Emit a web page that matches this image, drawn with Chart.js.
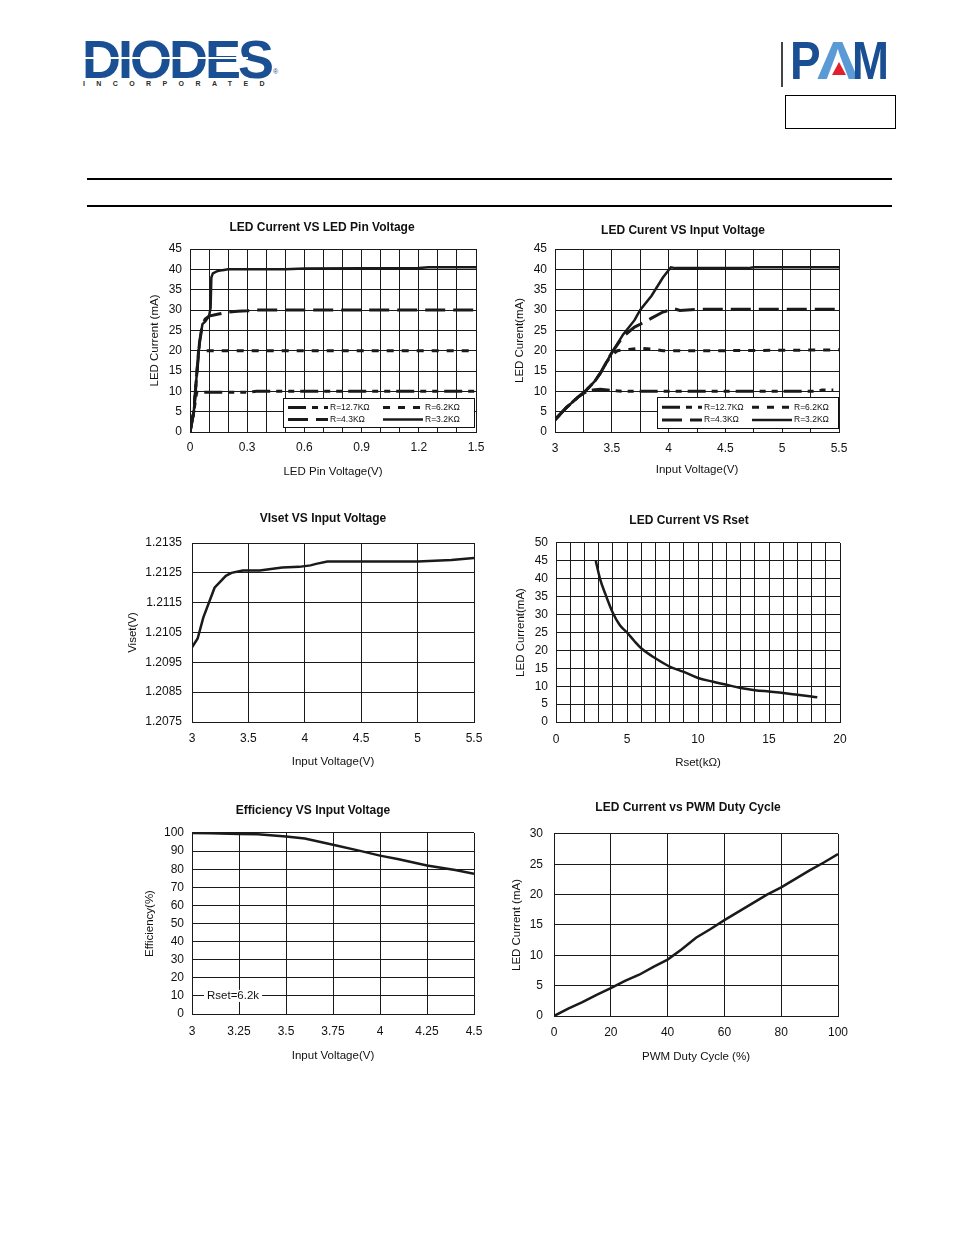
<!DOCTYPE html>
<html>
<head>
<meta charset="utf-8">
<script src="https://cdn.jsdelivr.net/npm/chart.js@4.4.1/dist/chart.umd.min.js"></script>
<style>
  body { margin:0; background:#fff; width:954px; height:1235px; position:relative; overflow:hidden;
         font-family:"Liberation Sans", Arial, sans-serif; }
  canvas { position:absolute; }
  .abs { position:absolute; }
  .diodes { left:82px; top:32px; font-size:54px; line-height:54px; font-weight:bold; color:#1b4f93; letter-spacing:-3px; }
  .stripe { left:83px; top:57px; width:165px; height:2px; background:#fff; }
  .reg { left:273px; top:68px; font-size:7px; color:#1b4f93; }
  .inc { left:83px; top:80px; font-size:7px; font-weight:bold; color:#2b2b1f; letter-spacing:11.4px; }
  .pamline { left:781px; top:42px; width:1.5px; height:45px; background:#444; }
  .pam { top:33px; font-size:54px; line-height:54px; font-weight:bold; transform-origin:left top; }
  .tri { left:832px; top:62px; width:0; height:0; border-left:7px solid transparent; border-right:7px solid transparent; border-bottom:13px solid #e0202a; }
  .pbox { left:785px; top:95px; width:109px; height:32px; border:1.3px solid #000; }
  .rule { left:87px; width:805px; height:2px; background:#000; }
</style>
</head>
<body>
<div class="abs diodes">DIODES</div>
<div class="abs stripe"></div>
<div class="abs reg">®</div>
<div class="abs inc">INCORPORATED</div>
<div class="abs pamline"></div>
<div class="abs pam" style="left:790px;color:#1b4f93;transform:scaleX(0.85)">P</div>
<div class="abs pam" style="left:817px;color:#5b9bd5;transform:scaleX(1.15)">Λ</div>
<div class="abs tri"></div>
<div class="abs pam" style="left:852px;color:#1b4f93;transform:scaleX(0.82)">M</div>
<div class="abs pbox"></div>
<div class="abs rule" style="top:178px"></div>
<div class="abs rule" style="top:205px"></div>

<canvas id="c1"></canvas>
<canvas id="c2"></canvas>
<canvas id="c3"></canvas>
<canvas id="c4"></canvas>
<canvas id="c5"></canvas>
<canvas id="c6"></canvas>

<script>
// ---- data ----
const seriesLabels = ['R=12.7KΩ', 'R=6.2KΩ', 'R=4.3KΩ', 'R=3.2KΩ'];

// LED current vs LED pin voltage
const pinV_127 = [0, 0.02, 0.035, 0.06, 0.2, 0.3, 0.35, 0.5, 1.0, 1.5];
const pinI_127 = [0, 5, 9.8, 9.8, 9.8, 9.8, 10, 10, 10, 10];
const pinV_62 = [0, 0.02, 0.035, 0.045, 0.1, 0.5, 1.0, 1.5];
const pinI_62 = [0, 5, 14, 20, 20, 20, 20, 20];
const pinV_43 = [0, 0.02, 0.035, 0.05, 0.065, 0.08, 0.1, 0.15, 0.2, 0.25, 0.3, 0.35, 1.0, 1.5];
const pinI_43 = [0, 5, 14, 22, 26.5, 27.8, 28.5, 29, 29.5, 29.7, 29.8, 30, 30, 30];
const pinV_32 = [0, 0.02, 0.035, 0.05, 0.065, 0.08, 0.1, 0.108, 0.112, 0.12, 0.14, 0.17, 0.2, 0.5, 0.6, 1.2, 1.25, 1.5];
const pinI_32 = [0, 5, 14, 22, 26.5, 27.2, 28.5, 30.5, 38, 39, 39.5, 39.8, 40, 40, 40.2, 40.3, 40.5, 40.5];

// LED current vs input voltage
const inV_127 = [3, 3.1, 3.2, 3.25, 3.3, 3.35, 3.4, 3.5, 3.6, 4.5, 5.3, 5.35, 5.45];
const inI_127 = [3, 6, 8.5, 9.5, 10.2, 10.4, 10.5, 10.2, 10, 10, 10, 10.3, 10.3];
const inV_62 = [3, 3.1, 3.2, 3.25, 3.3, 3.35, 3.4, 3.45, 3.5, 3.55, 3.65, 3.75, 3.85, 3.95, 4.5, 5, 5.5];
const inI_62 = [3, 6, 8.5, 9.6, 11, 12.5, 14.5, 17, 19, 20, 20.3, 20.6, 20.4, 20, 20, 20.1, 20.2];
const inV_43 = [3, 3.1, 3.2, 3.25, 3.3, 3.35, 3.4, 3.45, 3.5, 3.6, 3.7, 3.75, 3.85, 3.95, 4.05, 4.1, 4.3, 5.5];
const inI_43 = [3, 6, 8.5, 9.6, 11, 12.5, 14.5, 17, 19.5, 23.5, 25.8, 26.5, 28, 29.5, 30.3, 29.9, 30.2, 30.2];
const inV_32 = [3, 3.1, 3.2, 3.25, 3.3, 3.35, 3.4, 3.45, 3.5, 3.6, 3.7, 3.75, 3.85, 3.95, 4.02, 4.06, 4.7, 4.75, 5.5];
const inI_32 = [3, 6, 8.5, 9.6, 11, 12.5, 14.5, 17, 19.5, 24, 27.5, 30, 33.5, 38, 40.5, 40.3, 40.3, 40.5, 40.5];

// VIset vs input voltage
const visetV = [3, 3.05, 3.1, 3.2, 3.3, 3.35, 3.45, 3.6, 3.8, 3.95, 4.05, 4.1, 4.2, 5.0, 5.3, 5.5];
const visetY = [1.2100, 1.2103, 1.2110, 1.2120, 1.2124, 1.2125, 1.21258, 1.21258, 1.21268, 1.2127, 1.21275, 1.2128, 1.21288, 1.21288, 1.21293, 1.2130];

// LED current vs Rset
const rsetK = [2.8, 3.1, 3.5, 4, 4.5, 5, 5.5, 6, 7, 8, 9, 10, 11, 12, 13, 14, 15, 16, 17, 18, 18.4];
const rsetI = [45, 40, 35.5, 30.5, 27, 25, 22.7, 20.6, 17.8, 15.5, 14, 12.3, 11.3, 10.4, 9.5, 8.9, 8.5, 8.1, 7.6, 7.1, 6.9];

// Efficiency vs input voltage
const effV = [3, 3.1, 3.25, 3.35, 3.5, 3.6, 3.75, 3.9, 4, 4.1, 4.25, 4.4, 4.5];
const effPct = [100, 99.8, 99.5, 99.3, 98, 97, 93.5, 90, 87.5, 85.5, 82, 79.5, 77.5];

// LED current vs PWM duty cycle
const pwmDuty = [0, 5, 10, 15, 20, 25, 30, 35, 40, 45, 50, 55, 60, 65, 70, 75, 80, 85, 90, 95, 100];
const pwmI = [0, 1.2, 2.3, 3.5, 4.6, 5.8, 6.8, 8.1, 9.3, 11, 12.9, 14.3, 15.8, 17.2, 18.6, 20, 21.2, 22.6, 24, 25.3, 26.7];

// grid lines and tick labels
const pinVGrid = [0, 0.1, 0.2, 0.3, 0.4, 0.5, 0.6, 0.7, 0.8, 0.9, 1.0, 1.1, 1.2, 1.3, 1.4, 1.5];
const pinVTicks = [0, 0.3, 0.6, 0.9, 1.2, 1.5];
const cur45Grid = [0, 5, 10, 15, 20, 25, 30, 35, 40, 45];
const inVGrid = [3, 3.25, 3.5, 3.75, 4, 4.25, 4.5, 4.75, 5, 5.25, 5.5];
const inVTicks = [3, 3.5, 4, 4.5, 5, 5.5];
const visetXGrid = [3, 3.5, 4, 4.5, 5, 5.5];
const visetYGrid = [1.2075, 1.2085, 1.2095, 1.2105, 1.2115, 1.2125, 1.2135];
const rsetGrid = [0, 1, 2, 3, 4, 5, 6, 7, 8, 9, 10, 11, 12, 13, 14, 15, 16, 17, 18, 19, 20];
const rsetTicks = [0, 5, 10, 15, 20];
const cur50Grid = [0, 5, 10, 15, 20, 25, 30, 35, 40, 45, 50];
const effXGrid = [3, 3.25, 3.5, 3.75, 4, 4.25, 4.5];
const effYGrid = [0, 10, 20, 30, 40, 50, 60, 70, 80, 90, 100];
const pwmXGrid = [0, 20, 40, 60, 80, 100];
const pwmYGrid = [0, 5, 10, 15, 20, 25, 30];

// ---- drawing ----
const FONT = '"Liberation Sans", Arial, sans-serif';
const TICK = 12, AXT = 11.5, TTL = 12;
const INK = '#1a1a1a';
const PADR = 24;
Chart.defaults.font.family = FONT;
Chart.defaults.color = '#111';

const lh = s => s * 1.2;
const pts = (xs, ys) => xs.map((x, i) => ({ x: x, y: ys[i] }));
const meas = document.createElement('canvas').getContext('2d');

function line(label, xs, ys, dash, width) {
    return { label: label, data: pts(xs, ys), showLine: true, borderColor: INK,
             borderWidth: width, borderDash: dash, pointRadius: 0, tension: 0 };
}

// legend box drawn inside the plot (bottom right)
const boxLegend = {
    id: 'boxLegend',
    afterDatasetsDraw(chart, args, o) {
        const ctx = chart.ctx, a = chart.chartArea;
        const x = a.right - o.right - o.w, y = a.bottom - o.bottom - o.h;
        ctx.save();
        ctx.fillStyle = '#fff';
        ctx.fillRect(x, y, o.w, o.h);
        ctx.strokeStyle = '#111';
        ctx.lineWidth = 1;
        ctx.strokeRect(Math.round(x) + 0.5, Math.round(y) + 0.5, o.w, o.h);
        ctx.font = '8.5px ' + FONT;
        ctx.textBaseline = 'middle';
        chart.data.datasets.forEach((ds, i) => {
            const sx = x + 5 + (i % 2) * o.colW;
            const sy = y + (i < 2 ? o.h * 0.33 : o.h * 0.74);
            ctx.setLineDash(ds.borderDash || []);
            ctx.lineWidth = ds.borderWidth;
            ctx.strokeStyle = ds.borderColor;
            ctx.beginPath();
            ctx.moveTo(sx, sy);
            ctx.lineTo(sx + o.sample, sy);
            ctx.stroke();
            ctx.setLineDash([]);
            ctx.fillStyle = '#111';
            ctx.fillText(ds.label, sx + o.sample + 2, sy);
        });
        ctx.restore();
    }
};

// "Rset=6.2k" note sitting on a grid line
const rsetNote = {
    id: 'rsetNote',
    afterDatasetsDraw(chart, args, o) {
        const ctx = chart.ctx;
        const py = chart.scales.y.getPixelForValue(o.value);
        const tx = chart.chartArea.left + o.offset;
        ctx.save();
        ctx.font = AXT + 'px ' + FONT;
        const tw = ctx.measureText(o.text).width;
        ctx.fillStyle = '#fff';
        ctx.fillRect(tx - 3, py - 6, tw + 6, 12);
        ctx.fillStyle = '#111';
        ctx.textBaseline = 'middle';
        ctx.fillText(o.text, tx, py);
        ctx.restore();
    }
};

function build(id, b) {
    // y labels are clipped to the y scale box, so the box must reach past the widest label
    meas.font = TICK + 'px ' + FONT;
    const widest = Math.max(...b.yGrid.map(v => meas.measureText(String(v)).width));
    const scaleLeft = Math.floor(Math.min(2 * b.titleX - b.plot[2], b.yLabelRight - widest - 3));
    // spare room on the right (empty axis) keeps the chart title centred where it is in the sheet
    const extraR = Math.max(0, 2 * b.titleX - b.plot[2] - scaleLeft);
    const left = Math.floor(Math.min(scaleLeft, b.yTitleX - 10)) - 2;
    const top = Math.floor(b.titleY - lh(TTL) / 2 - 3);
    const right = Math.ceil(b.plot[2] + extraR) + PADR;
    const bottom = Math.ceil(b.xTitleY + lh(AXT) / 2 + 2);
    const cv = document.getElementById(id);
    cv.width = right - left;
    cv.height = bottom - top;
    cv.style.left = left + 'px';
    cv.style.top = top + 'px';

    const grid = { color: INK, lineWidth: 1, drawTicks: false };
    return new Chart(cv, {
        type: 'scatter',
        data: { datasets: b.datasets },
        plugins: b.plugins || [],
        options: {
            responsive: false,
            animation: false,
            layout: { padding: { left: scaleLeft - left, right: PADR, top: 0, bottom: 0 } },
            plugins: Object.assign({
                legend: { display: false },
                tooltip: { enabled: false },
                title: {
                    display: true, text: b.title, color: '#111',
                    font: { size: TTL, weight: 'bold' },
                    padding: { top: b.titleY - lh(TTL) / 2 - top, bottom: b.plot[1] - b.titleY - lh(TTL) / 2 }
                }
            }, b.pluginOpts || {}),
            scales: {
                x: {
                    type: 'linear',
                    min: b.xGrid[0], max: b.xGrid[b.xGrid.length - 1],
                    afterBuildTicks: s => { s.ticks = b.xGrid.map(v => ({ value: v })); },
                    afterFit: s => { s.height = bottom - b.plot[3]; },
                    ticks: {
                        autoSkip: false, maxRotation: 0, minRotation: 0, color: '#111',
                        font: { size: TICK },
                        padding: b.xLabelY - b.plot[3] - lh(TICK) / 2,
                        callback: v => b.xTicks.includes(v) ? String(v) : ''
                    },
                    grid: grid,
                    border: { color: INK },
                    title: {
                        display: true, text: b.xTitle, color: '#111', font: { size: AXT },
                        padding: { top: 0, bottom: bottom - b.xTitleY - lh(AXT) / 2 }
                    }
                },
                y: {
                    type: 'linear',
                    min: b.yGrid[0], max: b.yGrid[b.yGrid.length - 1],
                    afterBuildTicks: s => { s.ticks = b.yGrid.map(v => ({ value: v })); },
                    afterFit: s => { s.width = b.plot[0] - scaleLeft; },
                    ticks: {
                        autoSkip: false, color: '#111', font: { size: TICK },
                        padding: b.plot[0] - b.yLabelRight,
                        callback: v => String(v)
                    },
                    grid: grid,
                    border: { color: INK },
                    title: {
                        display: true, text: b.yTitle, color: '#111', font: { size: AXT },
                        padding: { top: b.yTitleX - lh(AXT) / 2 - scaleLeft, bottom: 0 }
                    }
                },
                spare: {
                    position: 'right',
                    afterFit: s => { s.width = Math.ceil(b.plot[2] + extraR) - b.plot[2]; },
                    grid: { display: false },
                    border: { display: false },
                    ticks: { display: false },
                    title: { display: false }
                }
            }
        }
    });
}

const D127 = [18, 6, 6, 6, 6, 6], D62 = [7, 8], D43 = [20, 8];

build('c1', {
    plot: [190, 249, 476, 432], titleX: 322, titleY: 228, yTitleX: 155, yLabelRight: 182, xLabelY: 448, xTitleY: 472,
    title: 'LED Current VS LED Pin Voltage', xTitle: 'LED Pin Voltage(V)', yTitle: 'LED Current (mA)',
    xGrid: pinVGrid, xTicks: pinVTicks, yGrid: cur45Grid,
    datasets: [
        line(seriesLabels[0], pinV_127, pinI_127, D127, 3),
        line(seriesLabels[1], pinV_62, pinI_62, D62, 3),
        line(seriesLabels[2], pinV_43, pinI_43, D43, 3),
        line(seriesLabels[3], pinV_32, pinI_32, [], 2.5)
    ],
    plugins: [boxLegend],
    pluginOpts: { boxLegend: { right: 2, bottom: 5, w: 191, h: 29, colW: 95, sample: 40 } }
});

build('c2', {
    plot: [555, 249, 839, 432], titleX: 683, titleY: 231, yTitleX: 520, yLabelRight: 547, xLabelY: 449, xTitleY: 470,
    title: 'LED Curent VS Input Voltage', xTitle: 'Input Voltage(V)', yTitle: 'LED Curent(mA)',
    xGrid: inVGrid, xTicks: inVTicks, yGrid: cur45Grid,
    datasets: [
        line(seriesLabels[0], inV_127, inI_127, D127, 3),
        line(seriesLabels[1], inV_62, inI_62, D62, 3),
        line(seriesLabels[2], inV_43, inI_43, D43, 3),
        line(seriesLabels[3], inV_32, inI_32, [], 2.5)
    ],
    plugins: [boxLegend],
    pluginOpts: { boxLegend: { right: 1, bottom: 4, w: 181, h: 31, colW: 90, sample: 40 } }
});

build('c3', {
    plot: [192, 543, 474, 722], titleX: 323, titleY: 519, yTitleX: 133, yLabelRight: 182, xLabelY: 739, xTitleY: 762,
    title: 'VIset VS Input Voltage', xTitle: 'Input Voltage(V)', yTitle: 'Viset(V)',
    xGrid: visetXGrid, xTicks: visetXGrid, yGrid: visetYGrid,
    datasets: [line('Viset', visetV, visetY, [], 2.5)]
});

build('c4', {
    plot: [556, 543, 840, 722], titleX: 689, titleY: 521, yTitleX: 521, yLabelRight: 548, xLabelY: 740, xTitleY: 763,
    title: 'LED Current VS Rset', xTitle: 'Rset(kΩ)', yTitle: 'LED Current(mA)',
    xGrid: rsetGrid, xTicks: rsetTicks, yGrid: cur50Grid,
    datasets: [Object.assign(line('ILED', rsetK, rsetI, [], 2.5), { cubicInterpolationMode: 'monotone' })]
});

build('c5', {
    plot: [192, 833, 474, 1014], titleX: 313, titleY: 811, yTitleX: 150, yLabelRight: 184, xLabelY: 1032, xTitleY: 1056,
    title: 'Efficiency VS Input Voltage', xTitle: 'Input Voltage(V)', yTitle: 'Efficiency(%)',
    xGrid: effXGrid, xTicks: effXGrid, yGrid: effYGrid,
    datasets: [line('Rset=6.2k', effV, effPct, [], 2.5)],
    plugins: [rsetNote],
    pluginOpts: { rsetNote: { value: 10, offset: 15, text: 'Rset=6.2k' } }
});

build('c6', {
    plot: [554, 834, 838, 1016], titleX: 688, titleY: 808, yTitleX: 517, yLabelRight: 543, xLabelY: 1033, xTitleY: 1057,
    title: 'LED Current vs PWM Duty Cycle', xTitle: 'PWM Duty Cycle (%)', yTitle: 'LED Current (mA)',
    xGrid: pwmXGrid, xTicks: pwmXGrid, yGrid: pwmYGrid,
    datasets: [line('ILED', pwmDuty, pwmI, [], 2.5)]
});
</script>
</body>
</html>
